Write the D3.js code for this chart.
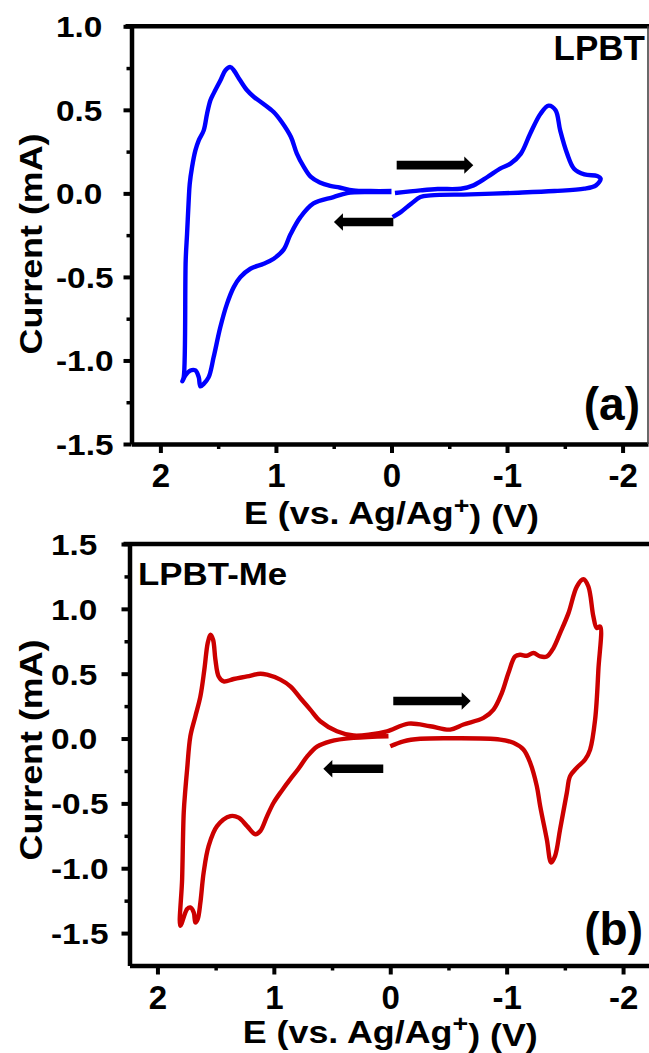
<!DOCTYPE html>
<html>
<head>
<meta charset="utf-8">
<script src="https://d3js.org/d3.v7.min.js"></script>
<style>
  body, html { margin: 0; padding: 0; background: #fff; }
  text { font-family: 'Liberation Sans', Arial, sans-serif; font-weight: bold; fill: #000; }
</style>
</head>
<body>
<script>
// ---- data: [E (V vs Ag/Ag+), current (mA)] ----
// panel (a) LPBT, the part right of 0 V
const lpbtRight = [[-0.03,0.002],[-0.25,0.018],[-0.40,0.026],[-0.60,0.028],[-0.71,0.048],[-0.83,0.098],
  [-0.94,0.148],[-1.03,0.178],[-1.12,0.238],[-1.20,0.357],[-1.29,0.477],[-1.36,0.525],[-1.42,0.497],
  [-1.46,0.377],[-1.52,0.238],[-1.58,0.148],[-1.67,0.114],[-1.78,0.104],[-1.81,0.088],[-1.77,0.048],
  [-1.67,0.028],[-1.41,0.014],[-1.10,0.004],[-0.68,-0.006],[-0.34,-0.012],[-0.25,-0.022],[-0.17,-0.062],
  [-0.08,-0.112],[-0.01,-0.142]];
// panel (a) LPBT, the loop left of 0 V
const lpbtLeft = [[0.0,0.014],[0.18,0.014],[0.33,0.018],[0.45,0.035],[0.53,0.045],[0.62,0.065],[0.70,0.10],
  [0.76,0.16],[0.82,0.24],[0.87,0.337],[0.95,0.427],[1.02,0.487],[1.11,0.537],[1.19,0.577],[1.25,0.617],
  [1.31,0.677],[1.365,0.737],[1.394,0.756],[1.437,0.737],[1.48,0.677],[1.54,0.597],[1.567,0.557],[1.596,0.477],
  [1.625,0.377],[1.668,0.317],[1.697,0.257],[1.726,0.157],[1.746,0.058],[1.755,-0.042],[1.769,-0.241],
  [1.781,-0.401],[1.798,-1.10],[1.81,-1.125],[1.784,-1.09],[1.74,-1.06],[1.697,-1.06],[1.668,-1.10],
  [1.654,-1.155],[1.625,-1.14],[1.582,-1.10],[1.539,-0.98],[1.481,-0.80],[1.423,-0.66],[1.365,-0.561],
  [1.307,-0.501],[1.221,-0.451],[1.106,-0.421],[1.019,-0.391],[0.932,-0.335],[0.874,-0.245],[0.788,-0.142],
  [0.675,-0.06],[0.502,-0.022],[0.384,0.002],[0.182,0.008],[0.0,0.008]];
// panel (b) LPBT-Me, one sweep
const lpbtMe = [[0,-0.059],[-0.114,-0.021],[-0.258,-0.002],[-0.543,0.002],[-0.944,-0.008],[-1.058,-0.033],
  [-1.144,-0.085],[-1.202,-0.187],[-1.259,-0.367],[-1.288,-0.521],[-1.345,-0.777],[-1.382,-0.956],
  [-1.416,-0.905],[-1.459,-0.70],[-1.517,-0.418],[-1.545,-0.29],[-1.603,-0.225],[-1.674,-0.162],
  [-1.717,-0.085],[-1.76,0.146],[-1.788,0.531],[-1.803,0.864],[-1.774,0.852],[-1.745,0.941],[-1.702,1.172],
  [-1.659,1.228],[-1.603,1.172],[-1.531,0.967],[-1.459,0.813],[-1.402,0.698],[-1.345,0.633],[-1.288,0.633],
  [-1.23,0.659],[-1.173,0.638],[-1.116,0.646],[-1.073,0.633],[-1.015,0.505],[-0.959,0.352],[-0.887,0.223],
  [-0.801,0.159],[-0.629,0.108],[-0.515,0.069],[-0.343,0.095],[-0.157,0.115],[0.028,0.056],[0.172,0.031],
  [0.315,0.023],[0.458,0.056],[0.601,0.133],[0.687,0.223],[0.773,0.313],[0.858,0.402],[0.944,0.454],
  [1.058,0.492],[1.116,0.50],[1.23,0.479],[1.345,0.459],[1.431,0.441],[1.474,0.479],[1.502,0.608],
  [1.522,0.762],[1.545,0.80],[1.568,0.736],[1.597,0.531],[1.631,0.325],[1.674,0.172],[1.717,0.018],
  [1.745,-0.238],[1.76,-0.392],[1.774,-0.569],[1.788,-1.085],[1.803,-1.444],[1.745,-1.315],[1.717,-1.302],
  [1.688,-1.341],[1.674,-1.418],[1.654,-1.392],[1.631,-1.264],[1.603,-1.033],[1.56,-0.828],[1.488,-0.675],
  [1.373,-0.598],[1.302,-0.61],[1.23,-0.675],[1.159,-0.738],[1.116,-0.713],[1.058,-0.598],[1.002,-0.495],
  [0.93,-0.40],[0.86,-0.315],[0.79,-0.235],[0.715,-0.14],[0.629,-0.062],[0.515,-0.021],[0.315,0.005],[0.015,0.018]];

// scan direction arrows: [from E, to E, at current]
const arrowsA = [[-0.045,-0.708,0.169],[-0.016,0.498,-0.171]];
const arrowsB = [[-0.026,-0.691,0.289],[0.06,0.575,-0.233]];

// ticks
const xTicks = [2,1,0,-1,-2];
const xMinor = [1.5,0.5,-0.5,-1.5];
const yTicksA = [1.0,0.5,0.0,-0.5,-1.0,-1.5];
const yMinorA = [0.75,0.25,-0.25,-0.75,-1.25];
const yTicksB = [1.5,1.0,0.5,0.0,-0.5,-1.0,-1.5];
const yMinorB = [1.25,0.75,0.25,-0.25,-0.75,-1.25];

const W = 649, H = 1053;
const svg = d3.select("body").append("svg")
    .attr("width", W).attr("height", H);

function panel(cfg) {
    const x = d3.scaleLinear().domain(cfg.xDomain).range(cfg.xRange);
    const y = d3.scaleLinear().domain(cfg.yDomain).range(cfg.yRange);
    const g = svg.append("g");
    const x0 = cfg.xRange[0];
    const yb = cfg.yRange[0], yt = cfg.yRange[1];

    // minor ticks first
    g.append("g").attr("transform", `translate(0,${yb})`)
        .call(d3.axisBottom(x).tickValues(xMinor).tickSize(5).tickFormat(""))
        .call(a => a.select(".domain").remove())
        .selectAll("line").attr("stroke-width", 3.5);
    g.append("g").attr("transform", `translate(${x0},0)`)
        .call(d3.axisLeft(y).tickValues(cfg.yMinor).tickSize(5).tickFormat(""))
        .call(a => a.select(".domain").remove())
        .selectAll("line").attr("stroke-width", 3.5);

    // major x ticks
    const gx = g.append("g").attr("transform", `translate(0,${yb})`)
        .call(d3.axisBottom(x).tickValues(xTicks).tickSize(9).tickSizeOuter(0).tickFormat(d => String(d)));
    gx.select(".domain").attr("stroke-width", 4.5);
    gx.selectAll(".tick line").attr("stroke-width", 4);
    gx.selectAll(".tick text").attr("y", 43).attr("dy", 0)
        .style("font-size", "33px");

    // major y ticks (labels are left aligned in the original)
    const gy = g.append("g").attr("transform", `translate(${x0},0)`)
        .call(d3.axisLeft(y).tickValues(cfg.yTicks).tickSize(8).tickSizeOuter(0).tickFormat(d => d.toFixed(1)));
    gy.select(".domain").attr("stroke-width", 4.5);
    gy.selectAll(".tick line").attr("stroke-width", 4);
    gy.selectAll(".tick text")
        .attr("text-anchor", "start")
        .attr("x", (cfg.labelLeft - x0) / 1.15).attr("dy", "0.36em")
        .attr("transform", "scale(1.15,1)")
        .style("font-size", "29px");

    // top frame line
    g.append("line").attr("x1", x0 - 6).attr("x2", W).attr("y1", yt).attr("y2", yt)
        .attr("stroke", "#000").attr("stroke-width", 4.5);
    if (cfg.rightFrame) {
        g.append("line").attr("x1", x(cfg.rightFrame)).attr("x2", x(cfg.rightFrame))
            .attr("y1", yt).attr("y2", yb)
            .attr("stroke", "#444").attr("stroke-width", 1.6);
    }

    // curves
    const line = d3.line().x(d => x(d[0])).y(d => y(d[1])).curve(d3.curveCatmullRom.alpha(0.5));
    cfg.curves.forEach(c => {
        g.append("path").datum(c)
            .attr("d", line)
            .attr("fill", "none")
            .attr("stroke", cfg.color)
            .attr("stroke-width", 4.4)
            .attr("stroke-linejoin", "round");
    });

    // arrows
    cfg.arrows.forEach(a => {
        const xs = x(a[0]), xe = x(a[1]), yy = y(a[2]);
        const dir = xe > xs ? 1 : -1;
        const hb = xe - dir * 9;
        const p = [[xs, yy - 4.3], [hb, yy - 4.3], [hb, yy - 8.7], [xe, yy], [hb, yy + 8.7], [hb, yy + 4.3], [xs, yy + 4.3]];
        g.append("path").attr("d", "M" + p.map(q => q.join(",")).join("L") + "Z").attr("fill", "#000");
    });

    // axis titles
    const xt = g.append("text")
        .attr("transform", `translate(${x(0)},${yb + cfg.xTitleGap}) scale(1.12,1)`)
        .attr("text-anchor", "middle")
        .style("font-size", "32px");
    xt.append("tspan").text("E (vs. Ag/Ag");
    xt.append("tspan").attr("dy", "-0.42em").style("font-size", "24px").text("+");
    xt.append("tspan").attr("dy", "0.42em").text(") (V)");

    g.append("text")
        .attr("transform", `translate(42,${cfg.yTitle}) rotate(-90) scale(1.12,1)`)
        .attr("text-anchor", "middle")
        .style("font-size", "32px")
        .text("Current (mA)");

    // labels
    g.append("text").attr("x", cfg.name[0]).attr("y", cfg.name[1])
        .attr("text-anchor", cfg.name[2])
        .attr("transform", cfg.name[4])
        .style("font-size", cfg.name[3] + "px").text(cfg.name[5]);
    g.append("text").attr("x", cfg.tag[0]).attr("y", cfg.tag[1])
        .attr("text-anchor", "end")
        .style("font-size", "46px").text(cfg.tag[2]);
}

panel({
    xDomain: [2.25, -2.22], xRange: [131.5, 648],
    yDomain: [-1.5, 1.0], yRange: [444, 26.3],
    yTicks: yTicksA, yMinor: yMinorA,
    labelLeft: 56,
    rightFrame: -2.22,
    color: "#0000ff",
    curves: [lpbtLeft, lpbtRight],
    arrows: arrowsA,
    xTitleGap: 80,
    yTitle: 244,
    name: [645, 60, "end", 35, null, "LPBT"],
    tag: [640, 420, "(a)"]
});

panel({
    xDomain: [2.24, -2.24], xRange: [129.5, 651],
    yDomain: [-1.75, 1.5], yRange: [965.5, 544],
    yTicks: yTicksB, yMinor: yMinorB,
    labelLeft: 51,
    rightFrame: null,
    color: "#cc0000",
    curves: [lpbtMe],
    arrows: arrowsB,
    xTitleGap: 77,
    yTitle: 750,
    name: [138 / 1.09, 585, "start", 32, "scale(1.09,1)", "LPBT-Me"],
    tag: [643, 945, "(b)"]
});
</script>
</body>
</html>
